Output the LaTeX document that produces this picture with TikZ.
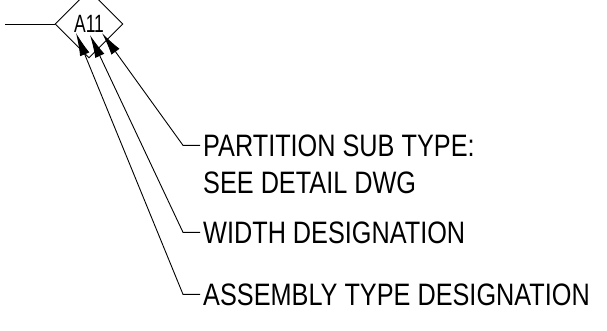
\documentclass[tikz,border=0pt]{standalone}
\usepackage{fontspec}
\setmainfont{Liberation Sans}[FakeStretch=0.815]
\newfontfamily\tagfont{Liberation Sans}[FakeStretch=0.7]
\usepackage{tikz}
\usetikzlibrary{arrows.meta,positioning,shapes.geometric}

\tikzset{
    tagbox/.style = {draw, shape=diamond, minimum width=68pt, minimum height=68pt,
                     inner sep=0pt, line width=0.9pt, font=\tagfont\fontsize{25}{25}\selectfont},
    label/.style  = {anchor=base west, inner xsep=3pt, inner ysep=0pt,
                     font=\fontsize{31}{31}\selectfont},
    leader/.style = {line width=0.9pt, -{Latex[length=23pt,width=10pt]}},
}

\begin{document}
\begin{tikzpicture}[x=1pt, y=-1pt]
    \useasboundingbox (0,0) rectangle (607,330);
    % Tag -----------------------------------------------------
    \node[tagbox] (tag) at (89,24) {A11};
    \coordinate (stub) at (5,24);
    \draw[line width=0.9pt] (stub) -- (tag.west);
    % Arrow tips
    \coordinate (tipP) at (102,33);
    \coordinate (tipW) at (90,35);
    \coordinate (tipA) at (76,33);
    % Labels --------------------------------------------------
    \node[label] (sub) at (200,156) {PARTITION SUB TYPE:};
    \node[label] (see) at (200,193.5) {SEE DETAIL DWG};
    \node[label] (wid) at (200,243) {WIDTH DESIGNATION};
    \node[label] (asm) at (200,305) {ASSEMBLY TYPE DESIGNATION};
    % Leaders
    \draw[leader] (sub.west) -- ++(-17,0) -- (tipP);
    \draw[leader] (wid.west) -- ++(-17,0) -- (tipW);
    \draw[leader] (asm.west) -- ++(-17,0) -- (tipA);
\end{tikzpicture}
\end{document}
